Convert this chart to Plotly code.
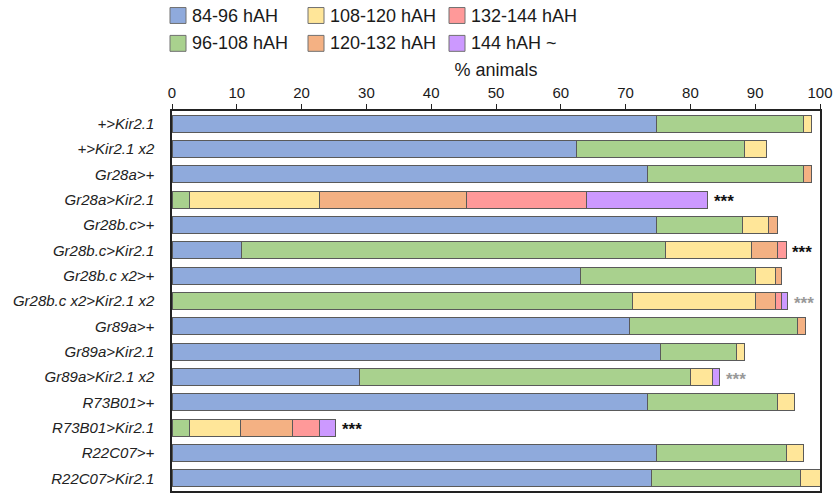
import plotly.graph_objects as go

# Genotypes (top to bottom)
genotypes = [
    "+>Kir2.1", "+>Kir2.1 x2", "Gr28a>+", "Gr28a>Kir2.1", "Gr28b.c>+",
    "Gr28b.c>Kir2.1", "Gr28b.c x2>+", "Gr28b.c x2>Kir2.1 x2", "Gr89a>+",
    "Gr89a>Kir2.1", "Gr89a>Kir2.1 x2", "R73B01>+", "R73B01>Kir2.1",
    "R22C07>+", "R22C07>Kir2.1",
]

# Percentage of animals in each time window (None = no animals)
h84_96 = [74.7, 62.4, 73.4, None, 74.7, 10.7, 63.0, None, 70.6, 75.4, 28.9, 73.4, None, 74.7, 74.0]
h96_108 = [22.8, 25.9, 24.1, 2.7, 13.4, 65.4, 27.1, 71.1, 26.0, 11.7, 51.1, 20.0, 2.7, 20.1, 23.0]
h108_120 = [1.2, 3.5, None, 20.0, 4.0, 13.3, 3.0, 19.0, None, 1.2, 3.4, 2.7, 7.9, 2.7, 3.0]
h120_132 = [None, None, 1.2, 22.7, 1.3, 4.0, 1.0, 3.1, 1.1, None, None, None, 8.0, None, None]
h132_144 = [None, None, None, 18.6, None, 1.4, None, 0.9, None, None, None, None, 4.1, None, None]
h144_up = [None, None, None, 18.7, None, None, None, 0.9, None, None, 1.1, None, 2.6, None, None]

series_names = ["84-96 hAH", "96-108 hAH", "108-120 hAH", "120-132 hAH", "132-144 hAH", "144 hAH ~"]
series_values = [h84_96, h96_108, h108_120, h120_132, h132_144, h144_up]
series_colors = ["#8FAADC", "#A9D18E", "#FFE699", "#F4B183", "#FF9999", "#CC99FF"]

# Significance marks: (genotype, text, color)
significance = [
    ("Gr28a>Kir2.1", "***", "#111111"),
    ("Gr28b.c>Kir2.1", "***", "#111111"),
    ("Gr28b.c x2>Kir2.1 x2", "***", "#999999"),
    ("Gr89a>Kir2.1 x2", "***", "#999999"),
    ("R73B01>Kir2.1", "***", "#111111"),
]

W, H = 833, 493
ML, MR, MT, MB = 172, 13, 111, 0
PW, PH = W - ML - MR, H - MT - MB

fig = go.Figure()
for name, vals, col in zip(series_names, series_values, series_colors):
    fig.add_trace(go.Bar(
        y=genotypes, x=vals, name=name, orientation="h",
        marker=dict(color=col, line=dict(color="#5a5a5a", width=1)),
        showlegend=False, hoverinfo="x+y+name",
    ))

# Text annotations after the stacked totals
totals = {g: sum(v[i] or 0 for v in series_values) for i, g in enumerate(genotypes)}
for g, txt, col in significance:
    fig.add_annotation(x=totals[g], y=g, text=f"<b>{txt}</b>", showarrow=False,
                       xanchor="left", yanchor="middle", xshift=4, yshift=-2,
                       font=dict(size=17, color=col, family="Liberation Sans, Arial"))

# Legend: two rows of three swatches above the chart
def px_x(px):
    return (px - ML) / PW

def px_y(py):
    return (H - MB - py) / PH

legend_cols = [170, 308, 449]
legend_rows = [15, 43]
order = [0, 2, 4, 1, 3, 5]
for k, idx in enumerate(order):
    r, c = divmod(k, 3)
    cx, cy = legend_cols[c], legend_rows[r]
    fig.add_shape(type="rect", xref="paper", yref="paper",
                  x0=px_x(cx), x1=px_x(cx + 16), y0=px_y(cy + 8), y1=px_y(cy - 8),
                  fillcolor=series_colors[idx], line=dict(color="#707070", width=1))
    fig.add_annotation(xref="paper", yref="paper", x=px_x(cx + 20), y=px_y(cy),
                       text=series_names[idx], showarrow=False, xanchor="left", yanchor="middle",
                       font=dict(size=18, color="#1a1a1a", family="Liberation Sans, Arial"))

fig.update_layout(
    width=W, height=H, barmode="stack", bargap=0.32,
    margin=dict(l=ML, r=MR, t=MT, b=MB),
    paper_bgcolor="white", plot_bgcolor="white",
    font=dict(family="Liberation Sans, Arial", color="#1a1a1a"),
    xaxis=dict(side="top", range=[0, 100], dtick=10, ticks="outside", ticklen=5,
               tickcolor="#222", showline=True, linecolor="#222", linewidth=1.5, mirror=True,
               showgrid=False, zeroline=False, tickfont=dict(size=15),
               title=dict(text="% animals", font=dict(size=18), standoff=3)),
    yaxis=dict(autorange="reversed", showline=True, linecolor="#222", linewidth=1.5, mirror=True,
               showgrid=False, ticks="", ticklabelstandoff=13,
               tickfont=dict(size=15, style="italic", color="#222")),
)

fig.write_html("out.html")
